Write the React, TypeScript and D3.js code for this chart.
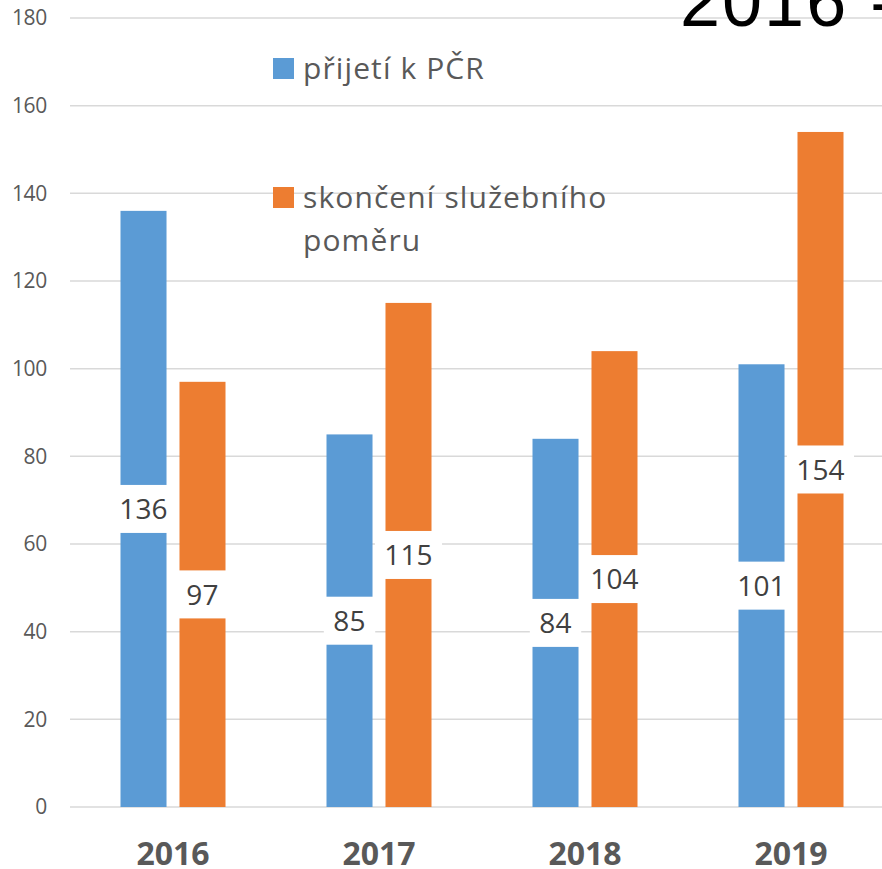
import React, { useEffect, useRef } from 'react';
import * as d3 from 'd3';

const years = ['2016', '2017', '2018', '2019'];
const seriesNames = ['přijetí k PČR', 'skončení služebního poměru'];
const prijeti = [136, 85, 84, 101];
const skonceni = [97, 115, 104, 154];
const yTicks = [0, 20, 40, 60, 80, 100, 120, 140, 160, 180];
const colors = ['#5b9bd5', '#ed7d31'];

const FONT = "'Open Sans', sans-serif";

const App = () => {
  const svgRef = useRef<SVGSVGElement>(null);

  useEffect(() => {
    const svg = d3.select(svgRef.current);
    svg.selectAll('*').remove();

    const x0 = d3.scaleBand().domain(years).range([70, 894]).padding(0);
    const groupW = 105;
    const x1 = d3.scaleBand()
      .domain(['a', 'b'])
      .range([(x0.bandwidth() - groupW) / 2, (x0.bandwidth() + groupW) / 2])
      .paddingInner(0.22)
      .paddingOuter(0);
    const y = d3.scaleLinear().domain([0, 180]).range([807, 18]);

    // gridlines
    svg.append('g').selectAll('line').data(yTicks).join('line')
      .attr('x1', 70).attr('x2', 882)
      .attr('y1', d => y(d)).attr('y2', d => y(d))
      .attr('stroke', '#d9d9d9').attr('stroke-width', 1.5);

    // y tick labels
    svg.append('g').selectAll('text').data(yTicks).join('text')
      .attr('x', 47).attr('y', d => y(d)).attr('dy', '0.35em')
      .attr('text-anchor', 'end')
      .style('font-family', FONT).style('font-size', '21px').style('letter-spacing', '-0.3px')
      .attr('fill', '#595959')
      .text(d => d);

    // title fragment (cropped)
    svg.append('text')
      .attr('x', 680).attr('y', 26)
      .style('font-family', "'Liberation Sans', Arial, sans-serif").style('font-size', '72px')
      .style('letter-spacing', '2px')
      .attr('fill', '#000').text('2016 -');

    const rows = years.map((yr, i) => ({ yr, vals: [prijeti[i], skonceni[i]] }));

    const groups = svg.append('g').selectAll('g').data(rows).join('g')
      .attr('transform', d => `translate(${x0(d.yr)},0)`);

    groups.selectAll('rect').data(d => d.vals.map((v, k) => ({ v, k }))).join('rect')
      .attr('x', d => x1(d.k === 0 ? 'a' : 'b')!)
      .attr('width', x1.bandwidth())
      .attr('y', d => y(d.v))
      .attr('height', d => y(0) - y(d.v))
      .attr('fill', d => colors[d.k]);

    // data labels with white boxes
    const labels = groups.selectAll('g.lbl').data(d => d.vals.map((v, k) => ({ v, k }))).join('g')
      .attr('class', 'lbl')
      .attr('transform', d => `translate(${x1(d.k === 0 ? 'a' : 'b')! + x1.bandwidth() / 2},${y(d.v / 2)})`);
    labels.append('rect')
      .attr('x', d => -(String(d.v).length * 15.7 + 20) / 2)
      .attr('width', d => String(d.v).length * 15.7 + 20)
      .attr('y', -24).attr('height', 48)
      .attr('fill', '#fff');
    labels.append('text')
      .attr('text-anchor', 'middle').attr('dy', '0.36em')
      .style('font-family', FONT).style('font-size', '28px').style('letter-spacing', '0.2px')
      .attr('fill', '#404040')
      .text(d => d.v);

    // x axis labels
    svg.append('g').selectAll('text').data(years).join('text')
      .attr('x', d => x0(d)! + x0.bandwidth() / 2).attr('y', 865)
      .attr('text-anchor', 'middle')
      .style('font-family', FONT).style('font-size', '32px').style('font-weight', 'bold')
      .attr('fill', '#595959').text(d => d);

    // legend
    const lg = svg.append('g')
      .style('font-family', FONT).style('font-size', '30px').style('letter-spacing', '1.1px')
      .attr('fill', '#595959');
    lg.append('rect').attr('x', 273).attr('y', 58).attr('width', 21).attr('height', 21).attr('fill', colors[0]);
    lg.append('text').attr('x', 303).attr('y', 79).text(seriesNames[0]);
    lg.append('rect').attr('x', 273).attr('y', 187).attr('width', 21).attr('height', 21).attr('fill', colors[1]);
    const t2 = lg.append('text');
    t2.append('tspan').attr('x', 303).attr('y', 208).text('skončení služebního');
    t2.append('tspan').attr('x', 303).attr('y', 251).text('poměru');
  }, []);

  return (
    <svg ref={svgRef} width={882} height={869}
      style={{ position: 'absolute', left: 0, top: 0, background: '#fff', overflow: 'hidden' }} />
  );
};

export default App;
